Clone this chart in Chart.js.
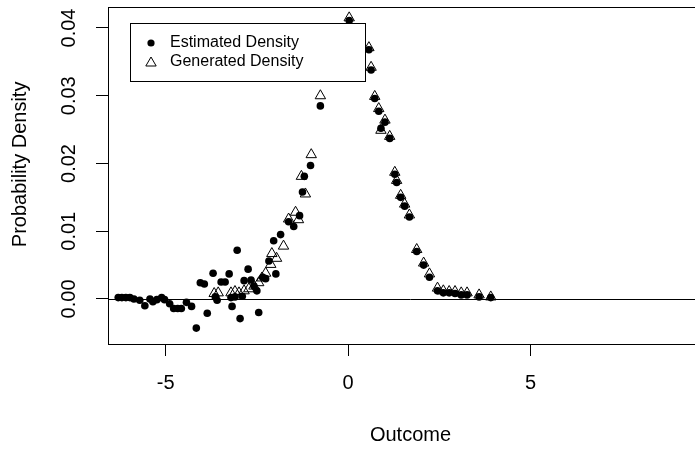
<!DOCTYPE html>
<html>
<head>
<meta charset="utf-8">
<script src="https://cdn.jsdelivr.net/npm/chart.js@4/dist/chart.umd.min.js"></script>
<style>
html, body { margin: 0; padding: 0; background: #fff; overflow: hidden; }
#contenedor { width: 720px; height: 449px; }
#grafico { display: block; }
</style>
</head>
<body>
<div id="contenedor"><canvas id="grafico" width="720" height="449"></canvas></div>
<script>
// DATOS - Estimated Density (puntos)
var estX = [-6.30, -6.20, -6.09, -5.98, -5.87, -5.71, -5.57, -5.43, -5.35, -5.24, -5.11, -5.03,
  -4.89, -4.78, -4.67, -4.57, -4.43, -4.29, -4.16, -4.05, -3.94, -3.86, -3.70, -3.64, -3.59,
  -3.48, -3.37, -3.26, -3.21, -3.18, -3.10, -3.04, -2.96, -2.90, -2.85, -2.74, -2.66, -2.58,
  -2.50, -2.45, -2.34, -2.26, -2.17, -2.04, -1.98, -1.85, -1.63, -1.49, -1.33, -1.25, -1.20,
  -1.03, -0.76, 0.03, 0.57, 0.63, 0.73, 0.84, 0.90, 1.01, 1.14, 1.28, 1.33, 1.44, 1.55, 1.68,
  1.88, 2.07, 2.23, 2.45, 2.61, 2.77, 2.93, 3.10, 3.26, 3.59, 3.91];
var estY = [0.0002, 0.0002, 0.0002, 0.0002, 0.0000, -0.0002, -0.0010, 0.0000, -0.0004, -0.0001, 0.0002, -0.0001,
  -0.0007, -0.0014, -0.0014, -0.0014, -0.0005, -0.0011, -0.0043, 0.0024, 0.0022, -0.0021, 0.0038, 0.0003, -0.0002,
  0.0025, 0.0025, 0.0037, 0.0002, -0.0011, 0.0003, 0.0072, -0.0029, 0.0004, 0.0027, 0.0044, 0.0028, 0.0019,
  0.0012, -0.0020, 0.0032, 0.0030, 0.0056, 0.0086, 0.0037, 0.0095, 0.0114, 0.0107, 0.0123, 0.0158, 0.0181,
  0.0197, 0.0285, 0.0411, 0.0368, 0.0338, 0.0296, 0.0277, 0.0252, 0.0261, 0.0237, 0.0184, 0.0172, 0.0150, 0.0137, 0.0121,
  0.0070, 0.0050, 0.0032, 0.0012, 0.0009, 0.0009, 0.0008, 0.0006, 0.0006, 0.0003, 0.0002];

// DATOS - Generated Density (triangulos)
var genX = [-3.67, -3.56, -3.21, -3.10, -2.99, -2.85, -2.72, -2.58, -2.45, -2.36, -2.26, -2.12, -2.09,
  -1.96, -1.77, -1.63, -1.44, -1.36, -1.28, -1.17, -1.01, -0.76, 0.03, 0.57, 0.63, 0.73, 0.84, 0.90,
  1.01, 1.14, 1.28, 1.33, 1.44, 1.55, 1.68, 1.88, 2.07, 2.23, 2.45, 2.61, 2.77, 2.93, 3.10, 3.26, 3.59, 3.91];
var genY = [0.0008, 0.0009, 0.0009, 0.0011, 0.0009, 0.0012, 0.0015, 0.0019, 0.0024, 0.0031, 0.0038, 0.0051, 0.0067,
  0.0060, 0.0078, 0.0118, 0.0128, 0.0117, 0.0181, 0.0155, 0.0213, 0.0300, 0.0415, 0.0371, 0.0342, 0.0299, 0.0281, 0.0249,
  0.0264, 0.0240, 0.0187, 0.0175, 0.0153, 0.0140, 0.0124, 0.0073, 0.0053, 0.0037, 0.0016, 0.0012, 0.0011, 0.0011, 0.0009, 0.0009, 0.0006, 0.0003];

var xTicks = [-5, 0, 5, 10];
var yTicks = [0, 0.01, 0.02, 0.03, 0.04];
var etiquetas = ['Estimated Density', 'Generated Density'];

var fuente = "'Liberation Sans', Arial, sans-serif";

function pares(xs, ys) {
  return xs.map(function (x, i) { return {x: x, y: ys[i]}; });
}

// marco del grafico + linea en cero
var marco = {
  id: 'marco',
  afterDatasetsDraw: function (chart) {
    var ctx = chart.ctx, a = chart.chartArea;
    var y0 = Math.round(chart.scales.y.getPixelForValue(0)) + 0.5;
    ctx.save();
    ctx.strokeStyle = '#000';
    ctx.lineWidth = 1;
    ctx.beginPath();
    ctx.moveTo(a.left, y0);
    ctx.lineTo(a.right, y0);
    ctx.stroke();
    ctx.strokeRect(Math.round(a.left) + 0.5, Math.round(a.top) + 0.5,
      Math.round(a.right - a.left), Math.round(a.bottom - a.top));
    ctx.restore();
  }
};

// leyenda dentro del grafico
var leyenda = {
  id: 'leyenda',
  afterDraw: function (chart) {
    var ctx = chart.ctx;
    ctx.save();
    ctx.fillStyle = '#fff';
    ctx.fillRect(131, 23, 235, 58);
    ctx.strokeStyle = '#000';
    ctx.lineWidth = 1;
    ctx.strokeRect(130.5, 23.5, 235, 58);

    ctx.fillStyle = '#000';
    Chart.helpers.drawPoint(ctx, {pointStyle: 'circle', radius: 3.6, borderWidth: 0, rotation: 0}, 151, 43);
    ctx.fillStyle = 'rgba(0,0,0,0)';
    Chart.helpers.drawPoint(ctx, {pointStyle: 'triangle', radius: 6, borderWidth: 1, rotation: 0}, 151, 63);

    ctx.fillStyle = '#000';
    ctx.font = '16px ' + fuente;
    ctx.textBaseline = 'middle';
    ctx.textAlign = 'left';
    ctx.fillText(etiquetas[0], 170, 43);
    ctx.fillText(etiquetas[1], 170, 62);
    ctx.restore();
  }
};

window.graficoDensidad = new Chart(document.getElementById('grafico'), {
  type: 'scatter',
  data: {
    datasets: [
      {
        label: etiquetas[1],
        data: pares(genX, genY),
        pointStyle: 'triangle',
        pointRadius: 6,
        backgroundColor: 'rgba(0,0,0,0)',
        borderColor: '#000',
        borderWidth: 1
      },
      {
        label: etiquetas[0],
        data: pares(estX, estY),
        pointStyle: 'circle',
        pointRadius: 3.8,
        backgroundColor: '#000',
        borderColor: '#000',
        borderWidth: 0
      }
    ]
  },
  options: {
    responsive: false,
    animation: false,
    layout: {padding: {top: 2, right: 2, left: 0, bottom: 0}},
    plugins: {
      legend: {display: false},
      tooltip: {enabled: false}
    },
    scales: {
      x: {
        type: 'linear',
        min: -6.58,
        max: 10,
        afterBuildTicks: function (scale) {
          scale.ticks = xTicks.map(function (v) { return {value: v}; });
        },
        afterFit: function (scale) {
          scale.height = 105;
          scale.paddingLeft = 0;
          scale.paddingRight = 0;
        },
        border: {display: false},
        grid: {drawOnChartArea: false, drawTicks: true, tickLength: 12, color: '#000'},
        ticks: {
          color: '#000',
          padding: 15,
          maxRotation: 0,
          font: {family: fuente, size: 20},
          callback: function (v) { return String(v); }
        },
        title: {
          display: true,
          text: 'Outcome',
          color: '#000',
          font: {family: fuente, size: 20},
          padding: {top: 0, bottom: 2}
        }
      },
      y: {
        type: 'linear',
        min: -0.00665,
        max: 0.0431,
        afterBuildTicks: function (scale) {
          scale.ticks = yTicks.map(function (v) { return {value: v}; });
        },
        afterFit: function (scale) {
          scale.width = 108;
          scale.paddingTop = 0;
          scale.paddingBottom = 0;
        },
        border: {display: false},
        grid: {drawOnChartArea: false, drawTicks: true, tickLength: 12, color: '#000'},
        ticks: {
          color: '#000',
          padding: 7,
          minRotation: 90,
          maxRotation: 90,
          crossAlign: 'center',
          font: {family: fuente, size: 20},
          callback: function (v) { return v.toFixed(2); }
        },
        title: {
          display: true,
          text: '\u00a0\u00a0\u00a0\u00a0Probability Density',
          color: '#000',
          font: {family: fuente, size: 20},
          padding: {top: 8, bottom: 0}
        }
      }
    }
  },
  plugins: [marco, leyenda]
});
</script>
</body>
</html>
